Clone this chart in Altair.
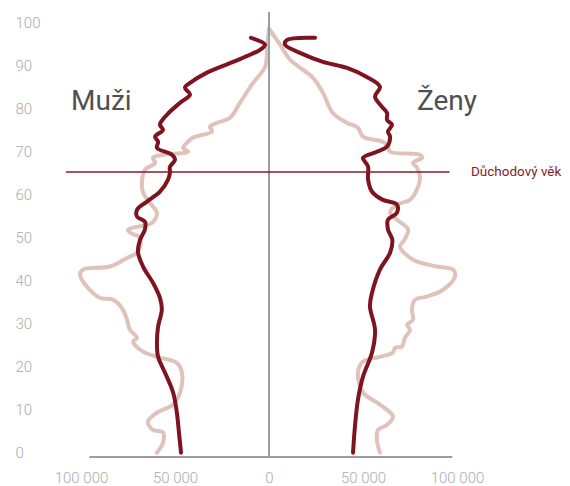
import altair as alt
import pandas as pd

# --- data (values in thousands of persons) ---
men_dark_age = [0, 4.7, 9.3, 14, 18.6, 22.3, 25.6, 29.3, 33.3, 36, 39.5, 43.3, 46.7, 49.5, 51.9, 53.7,
                54.9, 56.5, 58.4, 60.7, 63.5, 65.1, 66.5, 68.1, 69.3, 70.9, 72.3, 73.5, 75.1, 76.3, 78.6,
                81.4, 83.3, 84.9, 86.0, 88.4, 90.9, 93.7, 94.9, 96.5]
men_dark_val = [46.8, 47.9, 49, 51, 55.3, 59, 59.6, 59, 57, 58, 61.7, 67, 69.7, 68.6, 66, 66,
                70.2, 70.2, 64.9, 58, 53.7, 52.7, 52.7, 50, 51.6, 59.6, 59, 60.6, 56.4, 58, 54.3,
                47.3, 42, 44.7, 42, 33, 19.1, 4.8, 2.1, 9.6]

men_light_age = [0, 2.3, 4.7, 5.3, 7.2, 9.3, 11.2, 14, 18.6, 20.9, 22.3, 23.5, 25.8, 26.7, 28.6, 30.9,
                 33.3, 35.6, 36, 38.6, 41.4, 42.6, 43.3, 45.3, 46.7, 50, 51.2, 51.9, 53.5, 55.8, 58.1,
                 60.5, 63, 65.8, 67.4, 68.6, 69.3, 70, 70.9, 72.1, 73.3, 74.7, 75.8, 76.7, 77.9, 81.4,
                 86, 89.8, 94.4, 98.6]
men_light_val = [59.6, 56.4, 56.4, 61.7, 64.4, 59.6, 51, 47.3, 46.3, 49, 59.6, 67, 72.3, 70.2, 74, 75.5,
                 77.7, 83, 89.9, 96.8, 100.5, 98.9, 84.6, 75.5, 69.7, 68.6, 74, 75, 62.2, 59.6, 63.3,
                 67, 67.6, 66, 60.6, 61.7, 56.4, 43, 45.7, 43.6, 40.4, 30.3, 31.4, 27.7, 20.7, 15.4,
                 8.5, 2, 1, 0]

women_dark_age = [0, 6, 12.3, 17.7, 23.3, 28.6, 34, 37.2, 42.6, 46.5, 49.5, 51.9, 54.2, 55.8, 57.7,
                  58.8, 60.7, 63.5, 66.5, 67.7, 68.6, 70, 71.2, 73.5, 74.7, 76.3, 77.4, 79, 80.5, 82.8,
                  85.1, 87.4, 89.5, 90.9, 93, 94.9, 96, 96.5]
women_dark_val = [44.7, 45.7, 47.3, 50, 54.8, 56.4, 53.7, 54.8, 59, 64.4, 65.6, 63.3, 63.3, 68, 68,
                  60.6, 54.8, 52.7, 52.7, 51, 50, 57.4, 62.8, 64.4, 63.3, 65.4, 62.8, 62.8, 60, 56.4,
                  59, 52, 41.5, 28.7, 16.5, 8.5, 9.6, 24.5]

women_light_age = [0, 3, 5.3, 6.5, 8.4, 11.2, 14, 18.6, 21.2, 22.3, 23.3, 24.4, 24.7, 26.7, 28.6, 29.8,
                   30.9, 33.3, 35.6, 36.3, 37.9, 40.9, 42.6, 43.3, 44.9, 47.9, 49.5, 51.9, 54.2, 55.8,
                   57.7, 58.8, 61.2, 64.2, 66.3, 67.4, 68.6, 69.3, 70, 71.2, 72.3, 73.5, 75.6, 76.7,
                   79, 83.7, 87.2, 91.4, 94.9, 98.6]
women_light_val = [59, 57.4, 58, 62.8, 66, 59, 50, 47.3, 50, 59, 66, 67, 70.7, 72.3, 75, 73.4,
                   76.6, 76, 77.7, 84, 92.6, 98.9, 97.9, 89.4, 76.6, 69.7, 72, 74, 68, 64.4,
                   68, 75, 78.7, 80.3, 78.7, 76.6, 81.4, 80.3, 64.4, 63.3, 60.6, 50, 47.3, 41.5,
                   34, 28.7, 23.4, 11.2, 5.9, 0]

x_ticks = [-100000, -50000, 0, 50000, 100000]
y_ticks = [0, 10, 20, 30, 40, 50, 60, 70, 80, 90, 100]
retirement_age = 65

DARK = "#7d1420"
LIGHT = "#dfc2b9"
GRAY = "#9c9ca2"
FONT = "Roboto"


def frame(ages, vals, sign, side):
    return pd.DataFrame({"age": ages, "value": [sign * v * 1000 for v in vals], "side": side})


light = pd.concat([frame(men_light_age, men_light_val, -1, "M"),
                   frame(women_light_age, women_light_val, 1, "Z")])
dark = pd.concat([frame(men_dark_age, men_dark_val, -1, "M"),
                  frame(women_dark_age, women_dark_val, 1, "Z")])

xscale = alt.Scale(domain=[-100000, 100000], nice=False, zero=False)
yscale = alt.Scale(domain=[-1, 102.5], nice=False, zero=False)

xaxis = alt.Axis(values=x_ticks, labelExpr="replace(format(abs(datum.value), ','), ',', ' ')",
                 title=None, grid=False, domain=False, ticks=False, labelFlush=False,
                 labelPadding=13, labelFontSize=15, labelColor="#acacac", labelFont=FONT,
                 labelFontWeight=300)
yaxis = alt.Axis(values=y_ticks, title=None, grid=False, domain=False, ticks=False, tickSize=0,
                 labelAlign="left", labelPadding=66, labelFontSize=15, labelColor="#acacac",
                 labelFont=FONT, labelFontWeight=300)

light_layer = alt.Chart(light).mark_line(
    color=LIGHT, strokeWidth=4, interpolate="catmull-rom", strokeCap="round", strokeJoin="round"
).encode(
    x=alt.X("value:Q", scale=xscale, axis=xaxis),
    y=alt.Y("age:Q", scale=yscale, axis=yaxis),
    order="age:Q",
    detail="side:N",
)

dark_layer = alt.Chart(dark).mark_line(
    color=DARK, strokeWidth=4, interpolate="catmull-rom", strokeCap="round", strokeJoin="round"
).encode(
    x=alt.X("value:Q", scale=xscale),
    y=alt.Y("age:Q", scale=yscale),
    order="age:Q",
    detail="side:N",
)

zero_line = alt.Chart(pd.DataFrame({"x": [0], "y": [-1], "y2": [102.5]})).mark_rule(
    color=GRAY, strokeWidth=2
).encode(x="x:Q", y="y:Q", y2="y2:Q")

base_line = alt.Chart(pd.DataFrame({"x": [-95500], "x2": [97500], "y": [-1]})).mark_rule(
    color=GRAY, strokeWidth=2
).encode(x="x:Q", x2="x2:Q", y="y:Q")

retire_line = alt.Chart(pd.DataFrame({"x": [-108000], "x2": [96000], "y": [retirement_age + 0.3]})).mark_rule(
    color="#8a1a2a", strokeWidth=1.6
).encode(x="x:Q", x2="x2:Q", y="y:Q")

labels = pd.DataFrame({
    "text": ["Muži", "Ženy"],
    "x": [-105300, 78700],
    "y": [79.8, 79.8],
})
label_layer = alt.Chart(labels).mark_text(
    align="left", baseline="alphabetic", font=FONT, fontSize=28, fontWeight=400, color="#505050"
).encode(x="x:Q", y="y:Q", text="text:N")

retire_label = alt.Chart(pd.DataFrame({"text": ["Důchodový věk"], "x": [107400], "y": [retirement_age + 0.3]})).mark_text(
    align="left", baseline="middle", font=FONT, fontSize=13.5, fontWeight=400, color="#8a1a2a"
).encode(x="x:Q", y="y:Q", text="text:N")

chart = alt.layer(
    light_layer, dark_layer, zero_line, base_line, retire_line, label_layer, retire_label
).properties(
    width=376, height=445,
    autosize=alt.AutoSizeParams(type="none"),
    padding={"left": 73, "top": 4, "right": 105, "bottom": 29},
).configure_view(stroke=None)

chart.save("out.html", embed_options={"renderer": "svg", "actions": False})
